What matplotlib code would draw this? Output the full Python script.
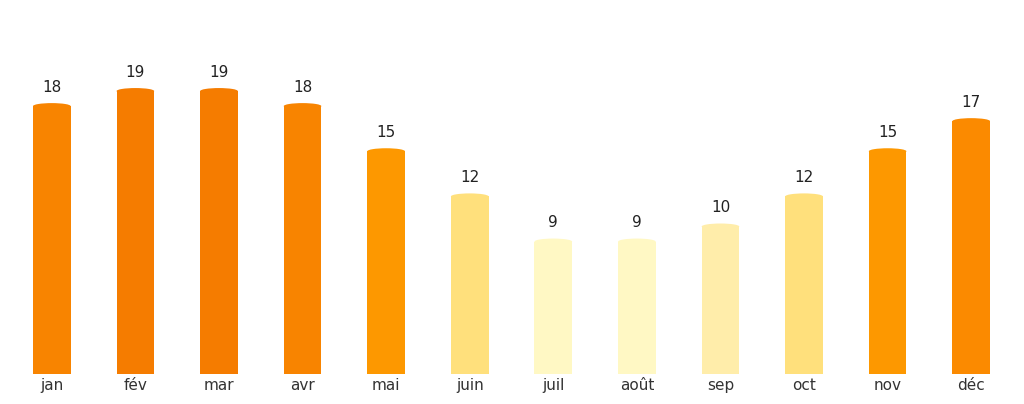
import matplotlib.pyplot as plt
from matplotlib.patches import Ellipse

months = ['jan', 'fév', 'mar', 'avr', 'mai', 'juin', 'juil', 'août', 'sep', 'oct', 'nov', 'déc']
values = [18, 19, 19, 18, 15, 12, 9, 9, 10, 12, 15, 17]
colors = ['#F88400', '#F57C00', '#F57C00', '#F88400', '#FD9800', '#FFE07C',
          '#FFF8C4', '#FFF8C4', '#FFEDAA', '#FFE07C', '#FD9800', '#FB8A00']

fig = plt.figure(figsize=(10.24, 4.04), dpi=100)
ax = fig.add_axes([10 / 1024, 30 / 404, 1003 / 1024, 374 / 404])

w = 0.45
cap = 0.4
x = list(range(len(months)))
ax.bar(x, [v - cap / 2 for v in values], width=w, color=colors, linewidth=0)
for i, v in enumerate(values):
    ax.add_patch(Ellipse((i, v - cap / 2), w, cap, color=colors[i], linewidth=0))
    ax.annotate(str(v), (i, v), xytext=(0, 6), textcoords='offset points',
                ha='center', va='bottom', fontsize=11, color='#222222')

ax.set_xlim(-0.5, 11.5)
ax.set_ylim(0, 374 / 15.05)
ax.set_xticks(x)
ax.set_xticklabels(months, fontsize=11, color='#333333')
ax.tick_params(axis='x', length=0, pad=3)
ax.set_yticks([])
for s in ax.spines.values():
    s.set_visible(False)

fig.savefig('out.png', dpi=100)
